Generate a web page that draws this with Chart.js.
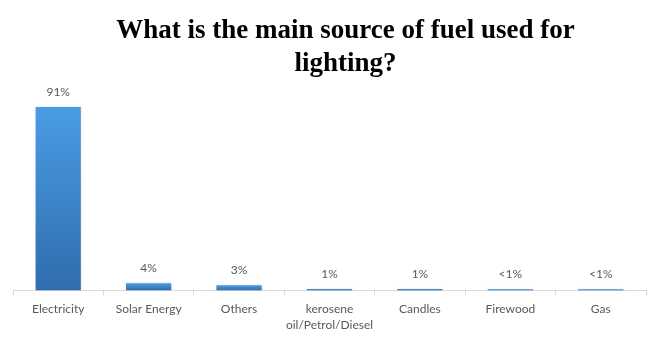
<!DOCTYPE html>
<html>
<head>
<meta charset="utf-8">
<script src="https://cdn.jsdelivr.net/npm/chart.js@4/dist/chart.umd.min.js"></script>
<style>
  html, body { margin: 0; padding: 0; background: #ffffff; }
  #wrap { width: 660px; height: 355px; position: relative; }
</style>
</head>
<body>
<div id="wrap"><canvas id="c"></canvas></div>
<script>
const categories = ['Electricity', 'Solar Energy', 'Others', ['kerosene', 'oil/Petrol/Diesel'], 'Candles', 'Firewood', 'Gas'];
const values = [91, 3.6, 2.6, 0.7, 0.7, 0.6, 0.6];
const valueLabels = ['91%', '4%', '3%', '1%', '1%', '<1%', '<1%'];
const titleLines = ['What is the main source of fuel used for', 'lighting?'];

const textColor = '#595959';
const labelFont = "Lato, 'Noto Sans', sans-serif";

function barGradient(context) {
  const chart = context.chart;
  const yScale = chart.scales && chart.scales.y;
  if (!chart.chartArea || !yScale || context.raw === undefined) return '#3C84CF';
  const top = yScale.getPixelForValue(context.raw);
  const bottom = yScale.getPixelForValue(0);
  const g = chart.ctx.createLinearGradient(0, top, 0, Math.max(bottom, top + 1));
  g.addColorStop(0, '#4A9CE4');
  g.addColorStop(1, '#2F6DAD');
  return g;
}

const shadowPlugin = {
  id: 'barShadow',
  beforeDatasetsDraw(chart) {
    const ctx = chart.ctx;
    ctx.save();
    ctx.shadowColor = 'rgba(0,0,0,0.15)';
    ctx.shadowBlur = 2;
  },
  afterDatasetsDraw(chart) {
    chart.ctx.restore();
  }
};

const valueLabelPlugin = {
  id: 'valueLabels',
  afterDatasetsDraw(chart) {
    const ctx = chart.ctx;
    const meta = chart.getDatasetMeta(0);
    ctx.save();
    ctx.font = '12px ' + labelFont;
    ctx.fillStyle = textColor;
    ctx.textAlign = 'center';
    ctx.textBaseline = 'middle';
    meta.data.forEach((bar, i) => {
      ctx.fillText(valueLabels[i], bar.x, bar.y - 15);
    });
    ctx.restore();
  }
};

const titleShiftPlugin = {
  id: 'titleShift',
  afterLayout(chart) {
    const t = chart.titleBlock;
    if (t) { t.left += 16; t.right += 16; }
  }
};

new Chart(document.getElementById('c'), {
  type: 'bar',
  data: {
    labels: categories,
    datasets: [{
      data: values,
      backgroundColor: barGradient,
      borderWidth: 0,
      categoryPercentage: 1.0,
      barPercentage: 0.5
    }]
  },
  options: {
    responsive: true,
    maintainAspectRatio: false,
    animation: false,
    devicePixelRatio: 1,
    layout: { padding: { left: 13, right: 14, top: 0, bottom: 16 } },
    plugins: {
      legend: { display: false },
      tooltip: { enabled: false },
      title: {
        display: true,
        text: titleLines,
        color: '#000000',
        font: { family: "'Liberation Serif', 'Times New Roman', serif", size: 27, weight: 'bold', lineHeight: 1.2222 },
        padding: { top: 14.5, bottom: 8.5 }
      }
    },
    scales: {
      x: {
        grid: { display: true, drawOnChartArea: false, drawTicks: true, tickLength: 5, color: '#D9D9D9', offset: true },
        border: { display: true, color: '#D9D9D9', width: 1 },
        ticks: { color: textColor, font: { family: labelFont, size: 12, lineHeight: 1.4 }, padding: 5, maxRotation: 0, autoSkip: false }
      },
      y: {
        display: false,
        min: 0,
        max: 100
      }
    }
  },
  plugins: [shadowPlugin, valueLabelPlugin, titleShiftPlugin]
});
</script>
</body>
</html>
